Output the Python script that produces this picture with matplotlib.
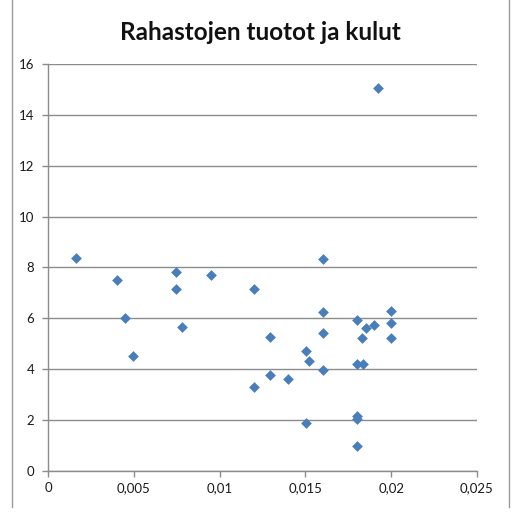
import matplotlib
matplotlib.use('Agg')
import matplotlib.pyplot as plt
from matplotlib.lines import Line2D
from matplotlib.ticker import FuncFormatter

plt.rcParams['font.family'] = ['Lato', 'DejaVu Sans']

# data
x_vals = [0.00166, 0.00402, 0.00446, 0.00497, 0.00747, 0.00747, 0.0078,
          0.00951, 0.01199, 0.0120, 0.01296, 0.01296, 0.01602, 0.0160,
          0.01803, 0.01899, 0.01854, 0.0200, 0.0200, 0.0160, 0.01832,
          0.0200, 0.01501, 0.01522, 0.0160, 0.01803, 0.01834, 0.0140,
          0.01803, 0.01803, 0.01501, 0.01803, 0.01924]
y_vals = [8.37, 7.49, 6.02, 4.53, 7.83, 7.15, 5.65,
          7.69, 7.15, 3.28, 5.25, 3.76, 8.31, 6.24,
          5.91, 5.75, 5.60, 6.29, 5.80, 5.41, 5.23,
          5.23, 4.69, 4.30, 3.95, 4.20, 4.20, 3.62,
          2.17, 2.02, 1.87, 0.96, 15.06]
x_ticks = [0, 0.005, 0.01, 0.015, 0.02, 0.025]
y_ticks = [0, 2, 4, 6, 8, 10, 12, 14, 16]
title = 'Rahastojen tuotot ja kulut'

grid_col = '#8c8c8c'
marker_col = '#4a7ebb'

fig = plt.figure(figsize=(5.2, 5.15), dpi=100)
ax = fig.add_axes([48 / 520, 1 - 470.7 / 515, 429 / 520, (470.7 - 64) / 515])

ax.scatter(x_vals, y_vals, marker='D', s=30, color=marker_col,
           linewidths=0, zorder=3, clip_on=False)

ax.set_xlim(0, 0.025)
ax.set_ylim(0, 16)
ax.set_xticks(x_ticks)
ax.set_yticks(y_ticks)
ax.xaxis.set_major_formatter(FuncFormatter(
    lambda v, p: ('%g' % round(v, 4)).replace('.', ',')))

ax.grid(axis='y', color=grid_col, linewidth=1)
ax.set_axisbelow(True)
for s in ['top', 'right']:
    ax.spines[s].set_visible(False)
for s in ['left', 'bottom']:
    ax.spines[s].set_color(grid_col)
    ax.spines[s].set_linewidth(1)
ax.tick_params(direction='out', length=4, width=1, color=grid_col,
               labelsize=9.5, labelcolor='#1a1a1a')
ax.tick_params(axis='y', pad=6)
ax.tick_params(axis='x', pad=4)

fig.text(0.5, 1 - 33 / 515, title, ha='center', va='center',
         fontsize=17.5, fontweight='bold', color='#111111')

# chart frame sides
for xp in [12, 509]:
    fig.add_artist(Line2D([xp / 520, xp / 520], [1, 1 - 507 / 515],
                          color='#9a9a9a', linewidth=1))

fig.savefig('out.png', dpi=100)
